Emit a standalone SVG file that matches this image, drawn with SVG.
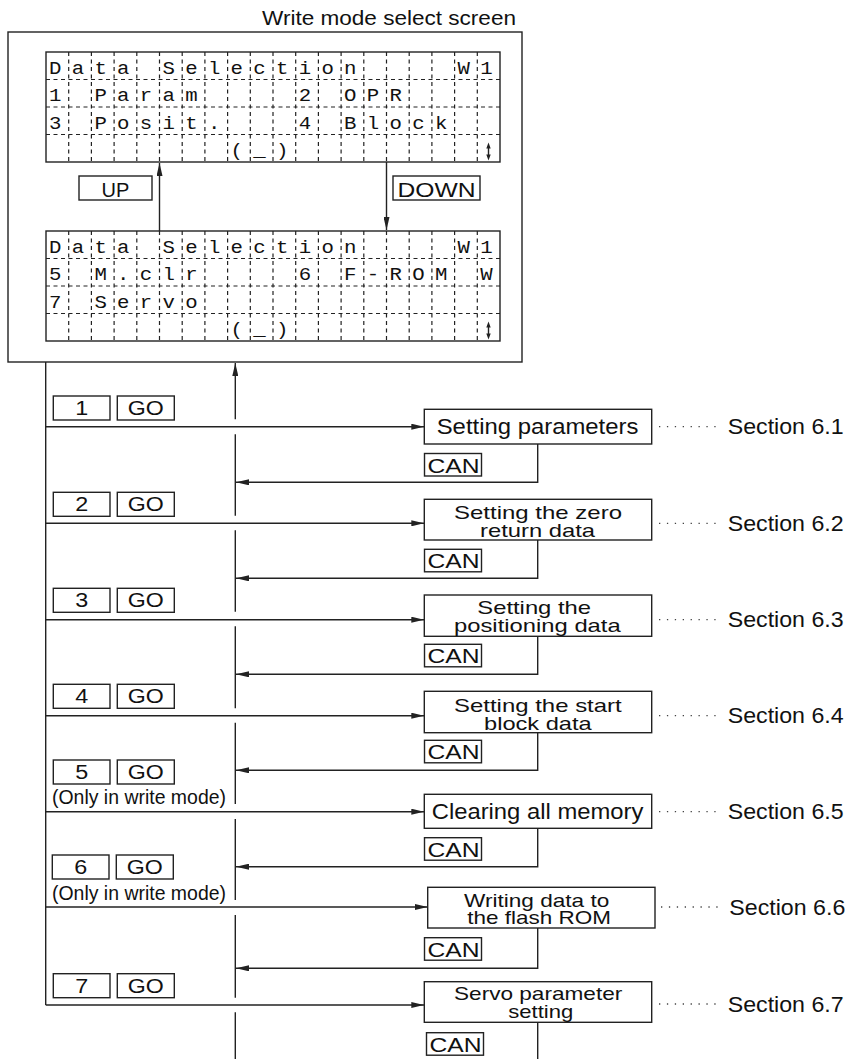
<svg xmlns="http://www.w3.org/2000/svg" width="853" height="1059" viewBox="0 0 853 1059">
<style>
  .ln{fill:none;stroke:#222;stroke-width:1.4}
  .bx{fill:#fff;stroke:#222;stroke-width:1.4}
  .dash{fill:none;stroke:#222;stroke-width:1.2;stroke-dasharray:4 3.5}
  .dot{fill:none;stroke:#444;stroke-width:1.3;stroke-dasharray:1.3 6.6}
  .t{font-family:"Liberation Sans",Arial,sans-serif;fill:#111}
  .lcd{font-family:"Liberation Mono","Courier New",monospace;font-size:18px;fill:#111}
  .k{font-size:19.5px}
  .p1{font-size:22px}
  .p2{font-size:19px}
  .sec{font-size:21.5px}
  .ud{fill:#222;stroke:none}
</style>
<defs>
  <marker id="ah" viewBox="0 0 13 6" refX="13" refY="3" markerWidth="13" markerHeight="6" markerUnits="userSpaceOnUse" orient="auto">
    <path d="M0,0 L13,3 L0,6 z" fill="#222"/>
  </marker>
</defs>

<text class="t" x="262" y="25" font-size="20" textLength="254" lengthAdjust="spacingAndGlyphs">Write mode select screen</text>

<g id="screen">
  <rect class="bx" x="8" y="32" width="514" height="330"/>
  <g id="lcd1">
    <rect class="bx" x="46" y="52" width="454" height="110"/>
    <path class="dash" d="M68.7,52V162M91.4,52V162M114.1,52V162M136.8,52V162M159.5,52V162M182.2,52V162M204.9,52V162M227.6,52V162M250.3,52V162M273,52V162M295.7,52V162M318.4,52V162M341.1,52V162M363.8,52V162M386.5,52V162M409.2,52V162M431.9,52V162M454.6,52V162M477.3,52V162M46,79.5H500M46,107H500M46,134.5H500"/>
    <g transform="scale(1.15,1)">
      <text class="lcd" y="74" x="42.61 62.35 82.09 101.83 141.30 161.04 180.78 200.52 220.26 240.00 259.74 279.48 299.22 397.91 417.65">DataSelectionW1</text>
      <text class="lcd" y="101.5" x="42.61 82.09 101.83 121.57 141.30 161.04 259.74 299.22 318.96 338.70">1Param2OPR</text>
      <text class="lcd" y="129" x="42.61 82.09 101.83 121.57 141.30 161.04 180.78 259.74 299.22 318.96 338.70 358.43 378.17">3Posit.4Block</text>
      <text class="lcd" y="156.5" x="200.52 220.26 240.00">(_)</text>
    </g>
    <path class="ln" d="M488.5,147V156" stroke-width="1.1"/>
    <path class="ud" d="M488.5,142.5L486.3,148.5H490.7zM488.5,160.5L486.3,154.5H490.7z"/>
  </g>
  <g id="up">
    <rect class="bx" x="79" y="176" width="73" height="24"/>
    <text class="t" x="115.5" y="196.5" font-size="20" text-anchor="middle">UP</text>
  </g>
  <g id="down">
    <rect class="bx" x="393" y="176" width="87" height="24"/>
    <text class="t" x="436.5" y="196.5" font-size="20" text-anchor="middle" textLength="78" lengthAdjust="spacingAndGlyphs">DOWN</text>
  </g>
  <g id="lcd2">
    <rect class="bx" x="46" y="231" width="454" height="110"/>
    <path class="dash" d="M68.7,231V341M91.4,231V341M114.1,231V341M136.8,231V341M159.5,231V341M182.2,231V341M204.9,231V341M227.6,231V341M250.3,231V341M273,231V341M295.7,231V341M318.4,231V341M341.1,231V341M363.8,231V341M386.5,231V341M409.2,231V341M431.9,231V341M454.6,231V341M477.3,231V341M46,258.5H500M46,286H500M46,313.5H500"/>
    <g transform="scale(1.15,1)">
      <text class="lcd" y="253" x="42.61 62.35 82.09 101.83 141.30 161.04 180.78 200.52 220.26 240.00 259.74 279.48 299.22 397.91 417.65">DataSelectionW1</text>
      <text class="lcd" y="280.5" x="42.61 82.09 101.83 121.57 141.30 161.04 259.74 299.22 318.96 338.70 358.43 378.17 417.65">5M.clr6F-ROMW</text>
      <text class="lcd" y="308" x="42.61 82.09 101.83 121.57 141.30 161.04">7Servo</text>
      <text class="lcd" y="335.5" x="200.52 220.26 240.00">(_)</text>
    </g>
    <path class="ln" d="M488.5,326V335" stroke-width="1.1"/>
    <path class="ud" d="M488.5,321.5L486.3,327.5H490.7zM488.5,339.5L486.3,333.5H490.7z"/>
  </g>
</g>

<g id="connectors">
  <path class="ln" d="M159.5,231V163" marker-end="url(#ah)"/>
  <path class="ln" d="M386.5,162V230" marker-end="url(#ah)"/>
  <path class="ln" d="M45.7,362V1005"/>
  <path class="ln" d="M235.3,419.3V363" marker-end="url(#ah)"/>
  <path class="ln" d="M235.3,434.3V515.7M235.3,530.3V611.7M235.3,626.3V708.3M235.3,722.7V804M235.3,819V900M235.3,915V997.7M235.3,1012.3V1059"/>
  <path class="ln" d="M45.7,426.7H424.3" marker-end="url(#ah)"/>
  <path class="ln" d="M45.7,523.3H424.3" marker-end="url(#ah)"/>
  <path class="ln" d="M45.7,619.7H424.3" marker-end="url(#ah)"/>
  <path class="ln" d="M45.7,715.7H424.3" marker-end="url(#ah)"/>
  <path class="ln" d="M45.7,811.7H424.3" marker-end="url(#ah)"/>
  <path class="ln" d="M45.7,907H427.7" marker-end="url(#ah)"/>
  <path class="ln" d="M45.7,1005H424.3" marker-end="url(#ah)"/>
  <path class="ln" d="M537.7,444V482.3H236" marker-end="url(#ah)"/>
  <path class="ln" d="M537.7,540V578.3H236" marker-end="url(#ah)"/>
  <path class="ln" d="M537.7,636.3V674.3H236" marker-end="url(#ah)"/>
  <path class="ln" d="M537.7,732.7V770.3H236" marker-end="url(#ah)"/>
  <path class="ln" d="M537.7,828.3V866.7H236" marker-end="url(#ah)"/>
  <path class="ln" d="M537.7,928V968.3H236" marker-end="url(#ah)"/>
  <path class="ln" d="M537.7,1022.3V1059"/>
  <path class="dot" d="M659,426.7H722M659,523.3H722M659,619.7H722M659,715.7H722M659,811.7H722M661,907H724M659,1004H722"/>
</g>

<g id="keys1">
  <rect class="bx" x="53.3" y="396" width="56.7" height="24"/><rect class="bx" x="117.3" y="396" width="57" height="24"/>
  <text class="t k" x="81.7" y="415" text-anchor="middle" textLength="13" lengthAdjust="spacingAndGlyphs">1</text>
  <text class="t k" x="145.8" y="415" text-anchor="middle" textLength="36" lengthAdjust="spacingAndGlyphs">GO</text>
</g>
<g id="keys2">
  <rect class="bx" x="53.3" y="492.3" width="56.7" height="24"/><rect class="bx" x="117.3" y="492.3" width="57" height="24"/>
  <text class="t k" x="81.7" y="511.3" text-anchor="middle" textLength="13" lengthAdjust="spacingAndGlyphs">2</text>
  <text class="t k" x="145.8" y="511.3" text-anchor="middle" textLength="36" lengthAdjust="spacingAndGlyphs">GO</text>
</g>
<g id="keys3">
  <rect class="bx" x="53.3" y="588.3" width="56.7" height="24"/><rect class="bx" x="117.3" y="588.3" width="57" height="24"/>
  <text class="t k" x="81.7" y="607.3" text-anchor="middle" textLength="13" lengthAdjust="spacingAndGlyphs">3</text>
  <text class="t k" x="145.8" y="607.3" text-anchor="middle" textLength="36" lengthAdjust="spacingAndGlyphs">GO</text>
</g>
<g id="keys4">
  <rect class="bx" x="53.3" y="684.3" width="56.7" height="24"/><rect class="bx" x="117.3" y="684.3" width="57" height="24"/>
  <text class="t k" x="81.7" y="703.3" text-anchor="middle" textLength="13" lengthAdjust="spacingAndGlyphs">4</text>
  <text class="t k" x="145.8" y="703.3" text-anchor="middle" textLength="36" lengthAdjust="spacingAndGlyphs">GO</text>
</g>
<g id="keys5">
  <rect class="bx" x="53.3" y="760" width="56.7" height="24"/><rect class="bx" x="117.3" y="760" width="57" height="24"/>
  <text class="t k" x="81.7" y="779" text-anchor="middle" textLength="13" lengthAdjust="spacingAndGlyphs">5</text>
  <text class="t k" x="145.8" y="779" text-anchor="middle" textLength="36" lengthAdjust="spacingAndGlyphs">GO</text>
  <text class="t k" x="52" y="804" textLength="174" lengthAdjust="spacingAndGlyphs">(Only in write mode)</text>
</g>
<g id="keys6">
  <rect class="bx" x="52.3" y="855" width="56.7" height="24"/><rect class="bx" x="116.3" y="855" width="57" height="24"/>
  <text class="t k" x="80.7" y="874.3" text-anchor="middle" textLength="13" lengthAdjust="spacingAndGlyphs">6</text>
  <text class="t k" x="144.8" y="874.3" text-anchor="middle" textLength="36" lengthAdjust="spacingAndGlyphs">GO</text>
  <text class="t k" x="52" y="899.5" textLength="174" lengthAdjust="spacingAndGlyphs">(Only in write mode)</text>
</g>
<g id="keys7">
  <rect class="bx" x="53.3" y="973.7" width="56.7" height="24"/><rect class="bx" x="117.3" y="973.7" width="57" height="24"/>
  <text class="t k" x="81.7" y="992.7" text-anchor="middle" textLength="13" lengthAdjust="spacingAndGlyphs">7</text>
  <text class="t k" x="145.8" y="992.7" text-anchor="middle" textLength="36" lengthAdjust="spacingAndGlyphs">GO</text>
</g>

<g id="proc1">
  <rect class="bx" x="424.3" y="409.3" width="227.4" height="34.7"/>
  <text class="t p1" x="436.7" y="434" textLength="201.7" lengthAdjust="spacingAndGlyphs">Setting parameters</text>
</g>
<g id="proc2">
  <rect class="bx" x="424.3" y="499.3" width="227.4" height="40.7"/>
  <text class="t p2" x="454" y="519.2" textLength="168" lengthAdjust="spacingAndGlyphs">Setting the zero</text>
  <text class="t p2" x="480" y="536.5" textLength="115" lengthAdjust="spacingAndGlyphs">return data</text>
</g>
<g id="proc3">
  <rect class="bx" x="424.3" y="595" width="227.4" height="41.3"/>
  <text class="t p2" x="477.3" y="614" textLength="113.7" lengthAdjust="spacingAndGlyphs">Setting the</text>
  <text class="t p2" x="454" y="631.5" textLength="166.7" lengthAdjust="spacingAndGlyphs">positioning data</text>
</g>
<g id="proc4">
  <rect class="bx" x="424.3" y="691.3" width="227.4" height="41.4"/>
  <text class="t p2" x="454" y="711.8" textLength="167.7" lengthAdjust="spacingAndGlyphs">Setting the start</text>
  <text class="t p2" x="484" y="729.5" textLength="107.7" lengthAdjust="spacingAndGlyphs">block data</text>
</g>
<g id="proc5">
  <rect class="bx" x="424.3" y="794.3" width="227.4" height="34"/>
  <text class="t p1" x="431.7" y="819" textLength="211.7" lengthAdjust="spacingAndGlyphs">Clearing all memory</text>
</g>
<g id="proc6">
  <rect class="bx" x="427.7" y="887.3" width="227.3" height="40.7"/>
  <text class="t p2" x="464" y="906.5" textLength="145.3" lengthAdjust="spacingAndGlyphs">Writing data to</text>
  <text class="t p2" x="467.3" y="924" textLength="143.7" lengthAdjust="spacingAndGlyphs">the flash ROM</text>
</g>
<g id="proc7">
  <rect class="bx" x="424.3" y="981.7" width="227.4" height="40.6"/>
  <text class="t p2" x="454" y="1000.3" textLength="168.3" lengthAdjust="spacingAndGlyphs">Servo parameter</text>
  <text class="t p2" x="508.3" y="1017.5" textLength="65" lengthAdjust="spacingAndGlyphs">setting</text>
</g>

<g id="can1"><rect class="bx" x="424.5" y="453.5" width="57" height="22.5"/><text class="t k" x="427.5" y="472.5" textLength="52" lengthAdjust="spacingAndGlyphs">CAN</text></g>
<g id="can2"><rect class="bx" x="424.5" y="549.3" width="57" height="22.5"/><text class="t k" x="427.5" y="568.3" textLength="52" lengthAdjust="spacingAndGlyphs">CAN</text></g>
<g id="can3"><rect class="bx" x="424.5" y="644.3" width="57" height="22.5"/><text class="t k" x="427.5" y="663.3" textLength="52" lengthAdjust="spacingAndGlyphs">CAN</text></g>
<g id="can4"><rect class="bx" x="424.5" y="740.3" width="57" height="22.5"/><text class="t k" x="427.5" y="759.3" textLength="52" lengthAdjust="spacingAndGlyphs">CAN</text></g>
<g id="can5"><rect class="bx" x="424.5" y="837.7" width="57" height="22.5"/><text class="t k" x="427.5" y="856.7" textLength="52" lengthAdjust="spacingAndGlyphs">CAN</text></g>
<g id="can6"><rect class="bx" x="424.5" y="937.7" width="57" height="22.5"/><text class="t k" x="427.5" y="956.7" textLength="52" lengthAdjust="spacingAndGlyphs">CAN</text></g>
<g id="can7"><rect class="bx" x="426.5" y="1032.7" width="57" height="22.5"/><text class="t k" x="429.5" y="1051.7" textLength="52" lengthAdjust="spacingAndGlyphs">CAN</text></g>

<g id="sections">
  <text class="t sec" x="727.7" y="434.2" textLength="116" lengthAdjust="spacingAndGlyphs">Section 6.1</text>
  <text class="t sec" x="727.7" y="530.8" textLength="116" lengthAdjust="spacingAndGlyphs">Section 6.2</text>
  <text class="t sec" x="727.7" y="627.2" textLength="116" lengthAdjust="spacingAndGlyphs">Section 6.3</text>
  <text class="t sec" x="727.7" y="723.2" textLength="116" lengthAdjust="spacingAndGlyphs">Section 6.4</text>
  <text class="t sec" x="727.7" y="819.2" textLength="116" lengthAdjust="spacingAndGlyphs">Section 6.5</text>
  <text class="t sec" x="729.3" y="914.5" textLength="116" lengthAdjust="spacingAndGlyphs">Section 6.6</text>
  <text class="t sec" x="727.7" y="1011.5" textLength="116" lengthAdjust="spacingAndGlyphs">Section 6.7</text>
</g>
</svg>
